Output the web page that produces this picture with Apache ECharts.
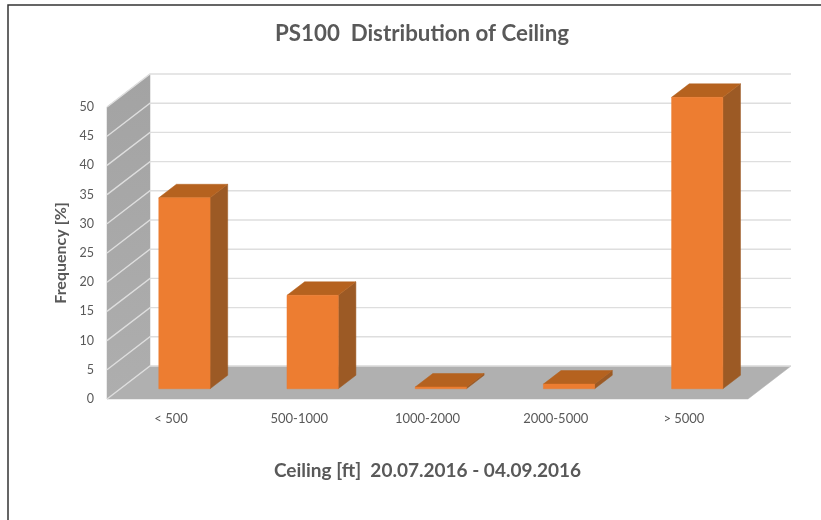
<!DOCTYPE html>
<html>
<head>
<meta charset="utf-8">
<style>html,body{margin:0;padding:0;background:#fff}#c{width:821px;height:520px}</style>
<script src="https://cdn.jsdelivr.net/npm/echarts@6/dist/echarts.min.js"></script>
</head>
<body>
<div id="c"></div>
<script>
const categories = ['< 500', '500-1000', '1000-2000', '2000-5000', '> 5000'];
const frequency = [32.7, 16, 0.3, 0.8, 49.9];
const yTicks = [0, 5, 10, 15, 20, 25, 30, 35, 40, 45, 50];

const DEPTH_X = 43, DEPTH_Y = -33;      // wall depth in px
const BAR_PLANE = 0.31, BAR_DEPTH = 0.41; // fractions of the depth
const BAR_WIDTH = 0.4;                  // fraction of a category

const chart = echarts.init(document.getElementById('c'), null, {renderer: 'canvas'});

function poly(points, fill) {
  return {type: 'polygon', shape: {points}, style: {fill, stroke: fill, lineWidth: 0.5}};
}

function renderWalls(params, api) {
  const y0 = api.coord([0, 0])[1], y50 = api.coord([0, 50])[1];
  const s = api.size([1, 0])[0];
  const xL = api.coord([0, 0])[0] - s / 2;
  const xR = xL + s * categories.length;
  const wallFill = new echarts.graphic.LinearGradient(0, 0, 0, 1, [
    {offset: 0, color: '#a3a3a3'}, {offset: 1, color: '#aeaeae'}
  ]);
  const children = [
    poly([[xL, y0], [xL, y50], [xL + DEPTH_X, y50 + DEPTH_Y], [xL + DEPTH_X, y0 + DEPTH_Y]], wallFill),
    poly([[xL, y0], [xL + DEPTH_X, y0 + DEPTH_Y], [xR + DEPTH_X, y0 + DEPTH_Y], [xR, y0]], '#b0b0b0')
  ];
  return {type: 'group', children};
}

function renderGrid(params, api) {
  const v = api.value(0);
  const s = api.size([1, 0])[0];
  const xL = api.coord([0, 0])[0] - s / 2;
  const xR = xL + s * categories.length;
  const y = api.coord([0, v])[1];
  return {
    type: 'polyline',
    shape: {points: [[xL, y], [xL + DEPTH_X, y + DEPTH_Y], [xR + DEPTH_X, y + DEPTH_Y]]},
    style: {fill: 'none', stroke: '#dedede', lineWidth: 1.4}
  };
}

function renderBar(params, api) {
  const c = api.value(0), v = api.value(1);
  const s = api.size([1, 0])[0], w = s * BAR_WIDTH;
  const ox = DEPTH_X * BAR_PLANE, oy = DEPTH_Y * BAR_PLANE;
  const dx = DEPTH_X * BAR_DEPTH, dy = DEPTH_Y * BAR_DEPTH;
  const base = api.coord([c, 0]), top = api.coord([c, v]);
  const x0 = base[0] - w / 2 + ox, x1 = x0 + w;
  const yb = base[1] + oy, yt = top[1] + oy;
  return {type: 'group', children: [
    poly([[x1, yb], [x1 + dx, yb + dy], [x1 + dx, yt + dy], [x1, yt]], '#9c5a25'),
    poly([[x0, yt], [x1, yt], [x1 + dx, yt + dy], [x0 + dx, yt + dy]], '#b5621f'),
    poly([[x0, yb], [x1, yb], [x1, yt], [x0, yt]], '#ed7d31')
  ]};
}

chart.setOption({
  animation: false,
  backgroundColor: '#fff',
  textStyle: {fontFamily: 'Lato'},
  title: {
    text: 'PS100  Distribution of Ceiling',
    left: 270, top: 18,
    textStyle: {fontFamily: 'Lato', fontSize: 22.3, fontWeight: 'bold', color: '#595959'}
  },
  graphic: [{
    type: 'polyline', silent: true, z: -1,
    shape: {points: [[8, 525], [8, 5], [826, 5]]},
    style: {fill: 'none', stroke: '#333', lineWidth: 1.5}
  }],
  grid: {left: 107, right: 73, top: 107, bottom: 121},
  xAxis: {
    type: 'category', data: categories,
    name: 'Ceiling [ft]  20.07.2016 - 04.09.2016',
    nameLocation: 'middle', nameGap: 62,
    nameTextStyle: {fontFamily: 'Lato', fontSize: 19, fontWeight: 'bold', color: '#595959'},
    axisLine: {show: false}, axisTick: {show: false}, splitLine: {show: false},
    axisLabel: {fontFamily: 'Lato', fontSize: 13, color: '#595959', margin: 13}
  },
  yAxis: {
    type: 'value', min: 0, max: 50, interval: 5,
    name: 'Frequency [%]',
    nameLocation: 'middle', nameGap: 37, nameRotate: 90,
    nameTextStyle: {fontFamily: 'Lato', fontSize: 16, fontWeight: 'bold', color: '#595959'},
    axisLine: {show: false}, axisTick: {show: false}, splitLine: {show: false},
    axisLabel: {fontFamily: 'Lato', fontSize: 12.5, color: '#595959', margin: 13, padding: [0, 0, 4, 0]}
  },
  series: [
    {type: 'custom', coordinateSystem: 'cartesian2d', data: [[0]], renderItem: renderWalls, silent: true, z: 1, clip: false},
    {type: 'custom', coordinateSystem: 'cartesian2d', data: yTicks.map(t => [t]), encode: {y: 0}, renderItem: renderGrid, silent: true, z: 2, clip: false},
    {type: 'custom', coordinateSystem: 'cartesian2d', data: frequency.map((v, i) => [i, v]), encode: {x: 0, y: 1}, renderItem: renderBar, z: 3, clip: false}
  ]
});
</script>
</body>
</html>
